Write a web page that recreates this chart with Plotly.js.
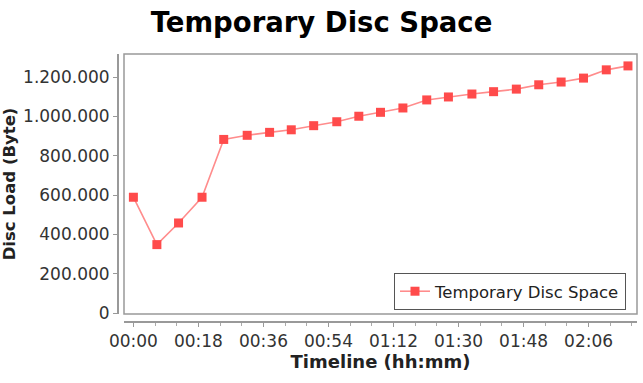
<!DOCTYPE html>
<html>
<head>
<meta charset="utf-8">
<script src="https://cdn.plot.ly/plotly-3.0.1.min.js"></script>
<style>html,body{margin:0;padding:0;background:#fff;}#chart{width:643px;height:383px;}</style>
</head>
<body>
<div id="chart"></div>
<script>
// Timeline in minutes since 00:00
const timeMinutes = [0, 6.5, 12.5, 19.0, 25.0, 31.5, 37.7, 43.7, 49.9, 56.3, 62.4, 68.4, 74.6, 81.2, 87.2, 93.7, 99.7, 106.0, 112.2, 118.4, 124.6, 130.9, 136.9];
const discLoad = [589000, 348000, 458000, 589000, 883000, 904000, 919000, 932000, 953000, 973000, 1001000, 1021000, 1043000, 1084000, 1099000, 1114000, 1126000, 1139000, 1161000, 1175000, 1195000, 1237000, 1257000];
const xTickVals = [0, 18, 36, 54, 72, 90, 108, 126];
const xTickText = ["00:00", "00:18", "00:36", "00:54", "01:12", "01:30", "01:48", "02:06"];
const yTickVals = [0, 200000, 400000, 600000, 800000, 1000000, 1200000];
const seriesName = "Temporary Disc Space";

const font = "DejaVu Sans, Verdana, sans-serif";
const trace = {
  x: timeMinutes,
  y: discLoad,
  type: "scatter",
  mode: "lines+markers",
  name: seriesName,
  line: {color: "#ff8c8c", width: 1.6},
  marker: {symbol: "square", size: 9, color: "#ff4b4b"}
};

const layout = {
  width: 643, height: 383,
  margin: {l: 117, r: 6, t: 54, b: 62},
  paper_bgcolor: "#ffffff",
  plot_bgcolor: "#ffffff",
  separators: ",.",
  font: {family: font, size: 16, color: "#333"},
  title: {
    text: "<b>Temporary Disc Space</b>",
    x: 0.5, xref: "container", xanchor: "center",
    y: 1 - 22/383, yref: "container", yanchor: "middle",
    font: {family: font, size: 27.5, color: "#000"}
  },
  xaxis: {
    domain: [7/520, 1],
    anchor: "free", position: 0,
    range: [-2.6, 139.4],
    tickvals: xTickVals, ticktext: xTickText,
    ticks: "outside", ticklen: 4, tickcolor: "#999", tickwidth: 1,
    minor: {dtick: 6, tick0: 0, ticks: "outside", ticklen: 3, tickcolor: "#aaa"},
    showline: true, linecolor: "#999", linewidth: 1.5,
    showgrid: false, zeroline: false,
    tickfont: {family: font, size: 17, color: "#333"},
    title: {text: "<b>Timeline (hh:mm)</b>", font: {family: font, size: 18, color: "#222"}, standoff: 5}
  },
  yaxis: {
    domain: [7/267, 1],
    anchor: "free", position: 0,
    range: [-5000, 1317600],
    tickvals: yTickVals,
    tickformat: ",d",
    ticks: "outside", ticklen: 4, tickcolor: "#999", tickwidth: 1,
    showline: true, linecolor: "#999", linewidth: 1.5,
    showgrid: false, zeroline: false,
    tickfont: {family: font, size: 17, color: "#333"},
    title: {text: "<b>Disc Load (Byte)</b>", font: {family: font, size: 16.5, color: "#222"}, standoff: 2}
  },
  shapes: [{
    type: "rect", xref: "x domain", yref: "y domain",
    x0: 0, x1: 1, y0: 0, y1: 1,
    line: {color: "#999", width: 1.5}, fillcolor: "rgba(0,0,0,0)"
  }],
  showlegend: true,
  legend: {
    x: (626-117)/520, xanchor: "right", xref: "paper",
    y: (321-310)/267, yanchor: "bottom", yref: "paper",
    bgcolor: "#fff", bordercolor: "#555", borderwidth: 1,
    font: {family: font, size: 16.5, color: "#222"},
    itemwidth: 30
  }
};

Plotly.newPlot("chart", [trace], layout, {displayModeBar: false, staticPlot: true});
</script>
</body>
</html>
